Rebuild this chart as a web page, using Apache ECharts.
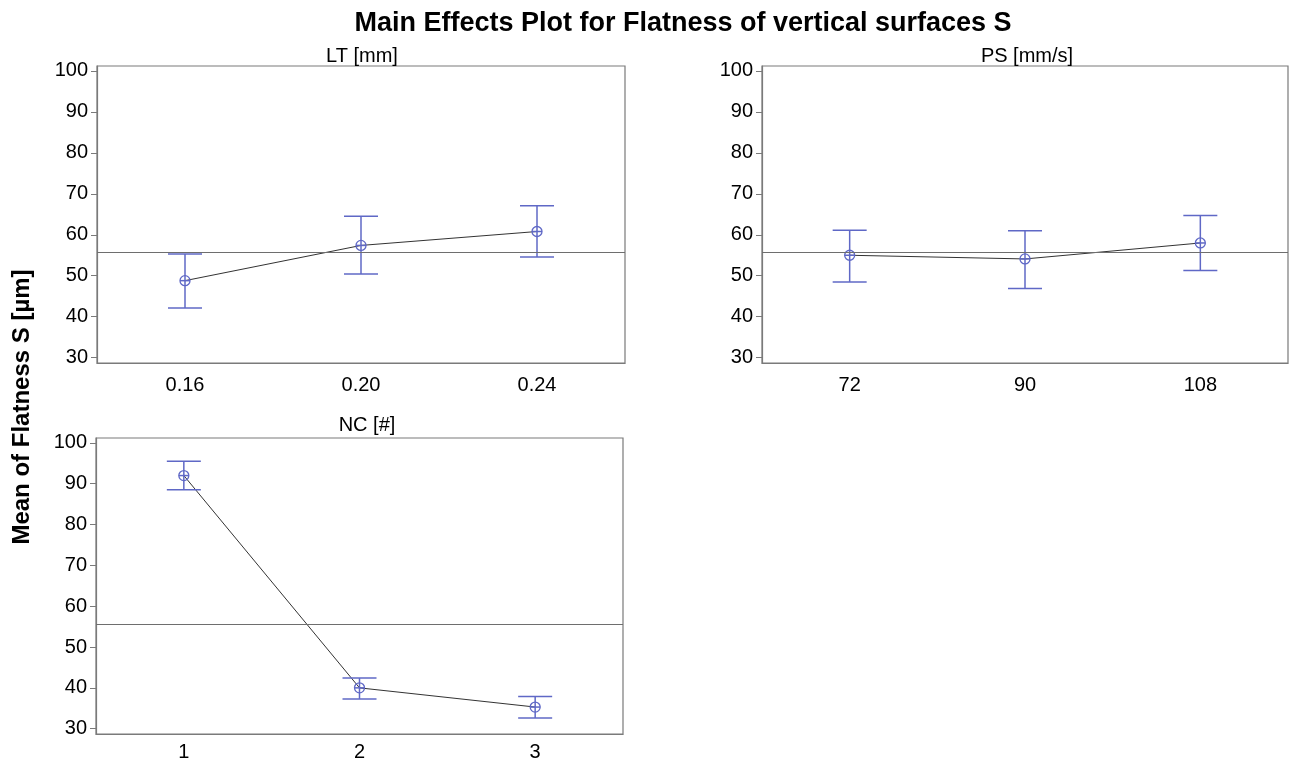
<!DOCTYPE html>
<html>
<head>
<meta charset="utf-8" />
<title>Main Effects Plot</title>
<script src="https://cdn.jsdelivr.net/npm/echarts@6/dist/echarts.min.js"></script>
<style>
  html, body { margin: 0; padding: 0; background: #fff; }
  #chart { width: 1290px; height: 766px; }
</style>
</head>
<body>
<div id="chart"></div>
<script>
// data
var grandMean = 55.7;
var yTicks = [30, 40, 50, 60, 70, 80, 90, 100];

var ltLabels = ['0.16', '0.20', '0.24'];
var ltMean = [48.8, 57.4, 60.8];
var ltLow = [42.1, 50.4, 54.6];
var ltHigh = [55.3, 64.5, 67.1];

var psLabels = ['72', '90', '108'];
var psMean = [55.0, 54.1, 58.0];
var psLow = [48.5, 46.9, 51.3];
var psHigh = [61.1, 61.0, 64.7];

var ncLabels = ['1', '2', '3'];
var ncMean = [92.0, 40.0, 35.3];
var ncLow = [88.5, 37.3, 32.6];
var ncHigh = [95.5, 42.4, 37.9];

var blue = '#5f68c6';
var font = 'Liberation Sans, Arial, sans-serif';

var chart = echarts.init(document.getElementById('chart'), null, { renderer: 'canvas' });

// error bar + circled-cross marker
function errRender(params, api) {
  var top = api.coord([api.value(0), api.value(2)]);
  var bot = api.coord([api.value(0), api.value(1)]);
  var mid = api.coord([api.value(0), api.value(3)]);
  var w = 17, r = 5;
  var st = { stroke: blue, lineWidth: 1.5 };
  return {
    type: 'group',
    children: [
      { type: 'line', shape: { x1: top[0], y1: top[1], x2: bot[0], y2: bot[1] }, style: st },
      { type: 'line', shape: { x1: top[0] - w, y1: top[1], x2: top[0] + w, y2: top[1] }, style: st },
      { type: 'line', shape: { x1: bot[0] - w, y1: bot[1], x2: bot[0] + w, y2: bot[1] }, style: st },
      { type: 'line', shape: { x1: mid[0] - r, y1: mid[1], x2: mid[0] + r, y2: mid[1] }, style: st },
      { type: 'circle', shape: { cx: mid[0], cy: mid[1], r: r }, style: { stroke: blue, fill: 'none', lineWidth: 1.3 } }
    ]
  };
}

var grids = [
  { left: 97, top: 66, width: 528, height: 297, show: true, borderColor: '#7a7a7a', borderWidth: 1.2, backgroundColor: '#fff' },
  { left: 762, top: 66, width: 526, height: 297, show: true, borderColor: '#7a7a7a', borderWidth: 1.2, backgroundColor: '#fff' },
  { left: 96, top: 438, width: 527, height: 296, show: true, borderColor: '#7a7a7a', borderWidth: 1.2, backgroundColor: '#fff' }
];
var panels = [
  { labels: ltLabels, mean: ltMean, low: ltLow, high: ltHigh, xMargin: 12 },
  { labels: psLabels, mean: psMean, low: psLow, high: psHigh, xMargin: 12 },
  { labels: ncLabels, mean: ncMean, low: ncLow, high: ncHigh, xMargin: 8 }
];

var xAxes = [], yAxes = [], series = [];
for (var i = 0; i < panels.length; i++) {
  var p = panels[i];
  xAxes.push({
    type: 'category', gridIndex: i, data: p.labels, boundaryGap: true,
    axisLine: { lineStyle: { color: '#7a7a7a', width: 1.2 } },
    axisTick: { alignWithLabel: true, length: 5, lineStyle: { color: '#8a8a8a' } },
    axisLabel: { color: '#000', fontSize: 20, fontFamily: font, margin: p.xMargin },
    splitLine: { show: false }
  });
  yAxes.push({
    type: 'value', gridIndex: i, min: 28.7, max: 101.2,
    axisLine: { show: true, lineStyle: { color: '#7a7a7a', width: 1.2 } },
    axisTick: { show: true, length: 6, customValues: yTicks, lineStyle: { color: '#7a7a7a' } },
    axisLabel: { color: '#000', fontSize: 20, fontFamily: font, margin: 9, customValues: yTicks },
    splitLine: { show: false }
  });
  var errData = [];
  for (var k = 0; k < p.mean.length; k++) {
    errData.push([k, p.low[k], p.high[k], p.mean[k]]);
  }
  series.push({
    type: 'line', xAxisIndex: i, yAxisIndex: i, data: p.mean,
    symbol: 'none', lineStyle: { color: '#333', width: 1 }, z: 2,
    markLine: {
      silent: true, symbol: 'none', label: { show: false },
      lineStyle: { color: '#6e6e6e', width: 1.2, type: 'solid' },
      data: [{ yAxis: grandMean }]
    }
  });
  series.push({
    type: 'custom', xAxisIndex: i, yAxisIndex: i, data: errData,
    renderItem: errRender, z: 3
  });
}

chart.setOption({
  animation: false,
  title: [
    { text: 'Main Effects Plot for Flatness of vertical surfaces S', left: 678, top: 5, textAlign: 'center',
      textStyle: { fontSize: 27, fontWeight: 'bold', color: '#000', fontFamily: font } },
    { text: 'LT [mm]', left: 357, top: 41, textAlign: 'center',
      textStyle: { fontSize: 20, fontWeight: 'normal', color: '#000', fontFamily: font } },
    { text: 'PS [mm/s]', left: 1022, top: 41, textAlign: 'center',
      textStyle: { fontSize: 20, fontWeight: 'normal', color: '#000', fontFamily: font } },
    { text: 'NC [#]', left: 362, top: 410, textAlign: 'center',
      textStyle: { fontSize: 20, fontWeight: 'normal', color: '#000', fontFamily: font } }
  ],
  graphic: [{
    type: 'text', x: 22, y: 407, rotation: Math.PI / 2,
    style: { text: 'Mean of Flatness S [µm]', fontSize: 24, fontWeight: 'bold', fontFamily: font,
      fill: '#000', align: 'center', verticalAlign: 'middle' }
  }],
  grid: grids,
  xAxis: xAxes,
  yAxis: yAxes,
  series: series
});
</script>
</body>
</html>
